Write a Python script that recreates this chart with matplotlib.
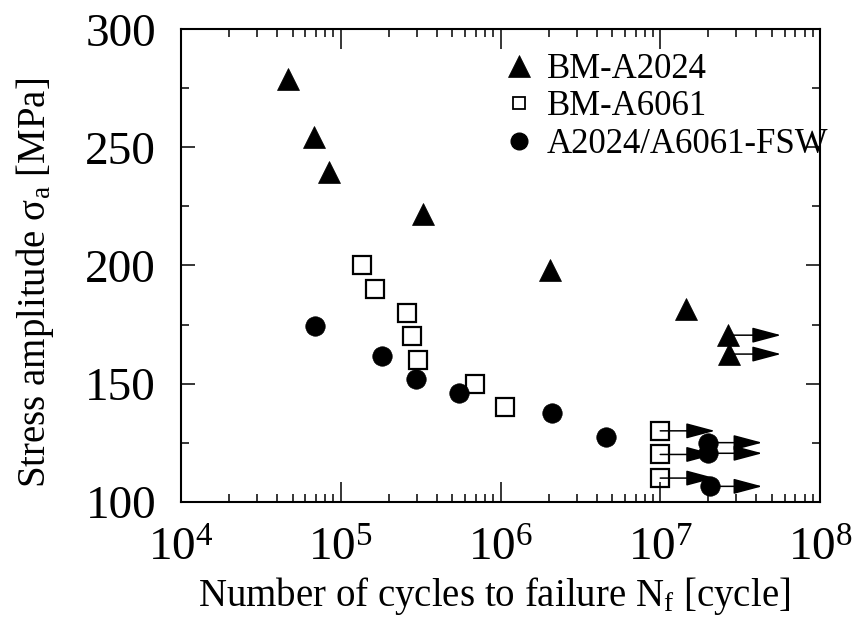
import numpy as np
import matplotlib
matplotlib.use('Agg')
import matplotlib.pyplot as plt
import matplotlib.lines as mlines
from matplotlib.ticker import MultipleLocator, LogLocator, NullFormatter

plt.rcParams['font.family'] = ['Liberation Serif', 'DejaVu Serif']
plt.rcParams['mathtext.fontset'] = 'custom'
plt.rcParams['mathtext.rm'] = 'Liberation Serif'
plt.rcParams['mathtext.it'] = 'Liberation Serif:italic'
plt.rcParams['mathtext.bf'] = 'Liberation Serif:bold'

# ── data ────────────────────────────────────────────────────────────────────
# BM-A2024 (filled triangles)
a2024_N = [4.7e4, 6.8e4, 8.5e4, 3.26e5, 2.03e6, 1.44e7, 2.67e7, 2.7e7]
a2024_S = [279, 254.5, 239.5, 222, 198, 181.5, 170.5, 162.5]
a2024_runout = [False, False, False, False, False, False, True, True]
a2024_arrow_end = 5.7e7

# BM-A6061 (open squares)
a6061_N = [1.36e5, 1.65e5, 2.59e5, 2.78e5, 3.03e5, 6.9e5, 1.06e6, 1.0e7, 1.0e7, 1.0e7]
a6061_S = [200, 190, 180, 170, 160, 150, 140, 130, 120, 110]
a6061_runout = [False] * 7 + [True, True, True]
a6061_arrow_end = 2.2e7

# A2024/A6061-FSW (filled circles)
fsw_N = [6.9e4, 1.82e5, 2.95e5, 5.48e5, 2.09e6, 4.56e6, 2.0e7, 2.0e7, 2.05e7]
fsw_S = [174.5, 161.5, 152, 146, 137.5, 127.5, 125, 120.5, 106.5]
fsw_runout = [False] * 6 + [True, True, True]
fsw_arrow_end = 4.35e7

# ── figure ──────────────────────────────────────────────────────────────────
fig = plt.figure(figsize=(8.64, 6.32), dpi=100)
ax = fig.add_axes([181 / 864, 1 - 501.7 / 632, 639 / 864, 472.4 / 632])

def runout_arrows(N, S, flags, x_end):
    for n, s, f in zip(N, S, flags):
        if not f:
            continue
        ax.annotate('', xy=(x_end, s), xytext=(n, s),
                    arrowprops=dict(arrowstyle='-|>,head_length=0.9,head_width=0.24',
                                    mutation_scale=20, lw=1.1, color='black',
                                    shrinkA=0, shrinkB=0),
                    zorder=2)

runout_arrows(a6061_N, a6061_S, a6061_runout, a6061_arrow_end)
runout_arrows(a2024_N, a2024_S, a2024_runout, a2024_arrow_end)
runout_arrows(fsw_N, fsw_S, fsw_runout, fsw_arrow_end)

ax.plot(a6061_N, a6061_S, ls='none', marker='s', ms=12.5, mfc='none',
        mec='black', mew=1.6, zorder=3)
ax.plot(fsw_N, fsw_S, ls='none', marker='o', ms=14, mfc='black',
        mec='black', mew=0.5, zorder=4)
ax.plot(a2024_N, a2024_S, ls='none', marker='^', ms=15.5, mfc='black',
        mec='black', mew=0.5, zorder=4)

# ── axes formatting ─────────────────────────────────────────────────────────
ax.set_xscale('log')
ax.set_xlim(1e4, 1e8)
ax.set_ylim(100, 300)
ax.yaxis.set_major_locator(MultipleLocator(50))
ax.yaxis.set_minor_locator(MultipleLocator(25))
ax.xaxis.set_major_locator(LogLocator(base=10, numticks=10))
ax.xaxis.set_minor_locator(LogLocator(base=10, subs=np.arange(2, 10), numticks=10))
ax.xaxis.set_minor_formatter(NullFormatter())

for sp in ax.spines.values():
    sp.set_linewidth(1.5)
ax.tick_params(which='both', direction='in', top=True, right=True, width=1.1)
ax.tick_params(axis='x', which='major', length=14.4, labelsize=34, pad=19)
ax.tick_params(axis='x', which='minor', length=5.8)
ax.tick_params(axis='y', which='major', length=10, labelsize=34, pad=18)
ax.tick_params(axis='y', which='minor', length=5.8)

ax.set_xlabel('Number of cycles to failure N$_\\mathrm{f}$ [cycle]', fontsize=28)
ax.set_ylabel('Stress amplitude σ$_\\mathrm{a}$ [MPa]', fontsize=28)
ax.yaxis.set_label_coords(-0.195, 0.464)
ax.xaxis.set_label_coords(0.49, -0.155)

handles = [
    mlines.Line2D([], [], ls='none', marker='^', ms=15.5, mfc='black', mec='black',
                  mew=0.5, label='BM-A2024'),
    mlines.Line2D([], [], ls='none', marker='s', ms=9, mfc='none', mec='black',
                  mew=1.3, label='BM-A6061'),
    mlines.Line2D([], [], ls='none', marker='o', ms=12, mfc='black', mec='black',
                  label='A2024/A6061-FSW'),
]
ax.legend(handles=handles, loc='upper left', bbox_to_anchor=(0.502, 0.950),
          frameon=False, fontsize=25, handlelength=1.0, handletextpad=0.3,
          labelspacing=0.13, borderpad=0, borderaxespad=0)

fig.savefig('out.png', dpi=100, facecolor='white')
